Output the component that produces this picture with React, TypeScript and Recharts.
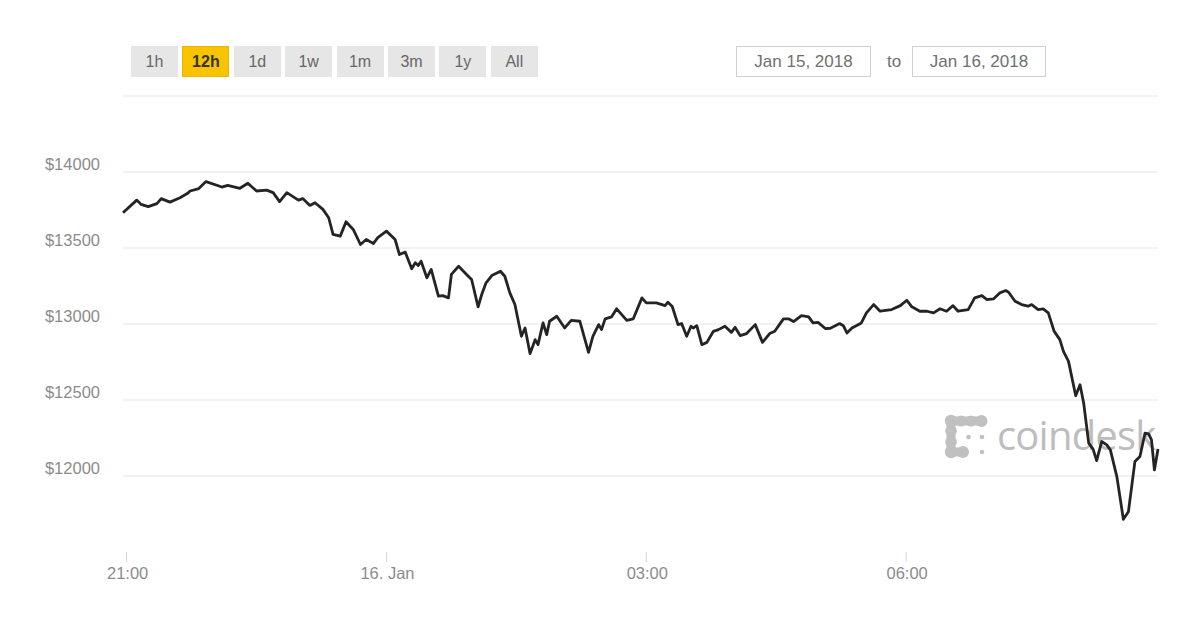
import React from 'react';
import { LineChart, Line, XAxis, YAxis, ReferenceLine } from 'recharts';

// minutes after 21:00 (Jan 15, 2018)
const minutes = [
  -2.5, 7, 10, 15, 21, 24, 30, 37, 42, 44, 50, 55, 66, 70, 78.5, 84, 90, 97, 101.5, 106,
  111, 119, 122, 127, 130.5, 136, 140, 143, 148, 152, 157, 162, 166, 171, 174, 180, 186, 189, 193, 197.5,
  200, 202, 204, 208, 211, 216, 219, 223, 225, 230, 235.5, 239, 243.5, 246, 249, 253, 259, 262, 265.5, 269,
  273.5, 276, 279.5, 283, 285, 288.5, 291, 293, 298, 303.5, 308, 314, 320, 323, 327, 329, 331.5, 336, 339.5, 346.5,
  351, 357, 360, 367, 373, 375, 378, 382, 384.5, 388, 391, 392.5, 395, 398.5, 402, 406.5, 410, 414.5, 419, 421.5,
  425, 429.5, 435.5, 440.5, 445.5, 449, 455, 458.5, 462, 467.5, 472.5, 475.5, 479, 484, 487.5, 494, 496.5, 499, 502.5, 509,
  512.5, 517.5, 522, 530, 536, 540.5, 544, 549.5, 554.5, 559, 563.5, 568, 572.5, 576, 583, 587.5, 592.5, 596, 600.5, 605,
  609, 611, 615.5, 620, 624.5, 627, 631.5, 635, 638.5, 642.5, 646.5, 649, 652.5, 657.5, 660.5, 663, 666.5, 669.5, 672, 675.5,
  679, 681.5, 686, 690.5, 694, 698.5, 702, 705.5, 708, 710, 712, 714.5,
];

// BTC price in USD
const prices = [
  13732, 13815, 13787, 13772, 13792, 13825, 13802, 13831, 13858, 13875, 13891, 13937, 13901, 13912, 13893, 13926, 13875, 13881, 13864, 13805,
  13864, 13815, 13825, 13780, 13798, 13754, 13699, 13589, 13578, 13673, 13622, 13523, 13556, 13530, 13568, 13611, 13556, 13457, 13473, 13363,
  13403, 13385, 13413, 13304, 13359, 13183, 13187, 13172, 13326, 13380, 13326, 13293, 13113, 13194, 13271, 13319, 13347, 13314, 13205, 13128,
  12919, 12974, 12805, 12897, 12864, 13007, 12930, 13018, 13051, 12974, 13024, 13018, 12813, 12919, 12996, 12963, 13034, 13047, 13100, 13024,
  13034, 13172, 13139, 13139, 13121, 13143, 13115, 12996, 13003, 12919, 12985, 12974, 12989, 12864, 12879, 12952, 12963, 12985, 12945, 12978,
  12924, 12937, 12996, 12879, 12937, 12952, 13034, 13034, 13016, 13055, 13047, 13007, 13011, 12970, 12972, 13003, 12989, 12941, 12974, 13007,
  13073, 13128, 13084, 13095, 13121, 13156, 13113, 13084, 13084, 13073, 13100, 13084, 13121, 13084, 13095, 13172, 13187, 13161, 13165, 13205,
  13220, 13209, 13150, 13128, 13117, 13128, 13095, 13100, 13073, 12953, 12897, 12820, 12754, 12528, 12600, 12480, 12216, 12177, 12101, 12227,
  12205, 12172, 11996, 11715, 11765, 12095, 12128, 12282, 12277, 12238, 12040, 12177,
];

const xTicks = [0, 180, 360, 540];
const xTickLabels = ['21:00', '16. Jan', '03:00', '06:00'];
const yTicks = [12000, 12500, 13000, 13500, 14000, 14500];
const yDomain = [11500, 14500];
const rangeButtons = ['1h', '12h', '1d', '1w', '1m', '3m', '1y', 'All'];
const selectedRange = '12h';
const fromDate = 'Jan 15, 2018';
const toDate = 'Jan 16, 2018';

const data = minutes.map((m, i) => ({ m, price: prices[i] }));

const FONT = '"Liberation Sans", Arial, Helvetica, sans-serif';

const YTick = (props: any) => {
  const { y, payload } = props;
  if (payload.value === yTicks[yTicks.length - 1]) return <g />;
  return (
    <text x={100} y={y - 2.5} textAnchor="end" fill="#8c8c8c" fontSize={16.5} fontFamily={FONT}>
      {'$' + payload.value}
    </text>
  );
};

const XTick = (props: any) => {
  const { x, y, payload } = props;
  const idx = xTicks.indexOf(payload.value);
  return (
    <text x={x + 1} y={y + 15} textAnchor="middle" fill="#8c8c8c" fontSize={16.5} fontFamily={FONT}>
      {idx >= 0 ? xTickLabels[idx] : ''}
    </text>
  );
};

const Watermark = () => (
  <svg width={1200} height={630} style={{ position: 'absolute', left: 0, top: 0 }}>
    <g fill="#c0c0c0" stroke="#c0c0c0">
      <path d="M981,421 L951,421 L951,452 L962,452" fill="none" strokeWidth={9} strokeLinecap="round" strokeLinejoin="round" />
      <circle cx={951} cy={421} r={6.2} stroke="none" />
      <circle cx={961} cy={421} r={5.6} stroke="none" />
      <circle cx={971} cy={421} r={5.6} stroke="none" />
      <circle cx={981.5} cy={421} r={6} stroke="none" />
      <circle cx={951} cy={431} r={5.8} stroke="none" />
      <circle cx={951} cy={442} r={5.8} stroke="none" />
      <circle cx={951} cy={452} r={6.2} stroke="none" />
      <circle cx={963} cy={452} r={6} stroke="none" />
      <circle cx={968.5} cy={437} r={2.3} stroke="none" />
      <circle cx={982} cy={437} r={2.3} stroke="none" />
      <circle cx={982} cy={452} r={2.3} stroke="none" />
    </g>
    <text x={997} y={450} fill="#bdbdbd" fontSize={40} fontWeight={400} fontFamily='"Open Sans", sans-serif' letterSpacing={-0.8}>
      coindesk
    </text>
  </svg>
);

export default function App() {
  return (
    <div style={{ position: 'absolute', left: 0, top: 0, width: 1200, height: 630, background: '#fff', overflow: 'hidden', fontFamily: FONT }}>
      <Watermark />
      <div style={{ position: 'absolute', left: 0, top: 0 }}>
        <LineChart width={1200} height={630} data={data} margin={{ top: 96, right: 42, bottom: 38, left: 0 }}>
          {yTicks.map((t) => (
            <ReferenceLine key={t} y={t} stroke="#e6e6e6" strokeWidth={1} ifOverflow="extendDomain" />
          ))}
          <XAxis
            dataKey="m"
            type="number"
            domain={['dataMin', 'dataMax']}
            ticks={xTicks}
            interval={0}
            axisLine={false}
            tickLine={{ stroke: '#ccd6eb' }}
            tickSize={10}
            height={40}
            tick={<XTick />}
          />
          <YAxis
            type="number"
            domain={yDomain}
            ticks={yTicks}
            interval={0}
            axisLine={false}
            tickLine={false}
            width={123}
            tick={<YTick />}
          />
          <Line
            type="linear"
            dataKey="price"
            stroke="#242424"
            strokeWidth={2.8}
            strokeLinejoin="round"
            dot={false}
            activeDot={false}
            isAnimationActive={false}
          />
        </LineChart>
      </div>
      {rangeButtons.map((b, i) => {
        const sel = b === selectedRange;
        return (
          <div
            key={b}
            style={{
              position: 'absolute',
              left: 131 + i * 51.4,
              top: 46,
              width: 47,
              height: 31,
              boxSizing: 'border-box',
              background: sel ? '#f9c300' : '#e6e6e6',
              border: sel ? '1px solid #e9b600' : 'none',
              color: sel ? '#333' : '#666',
              fontWeight: sel ? 'bold' : 'normal',
              fontSize: 16,
              display: 'flex',
              alignItems: 'center',
              justifyContent: 'center',
            }}
          >
            {b}
          </div>
        );
      })}
      <div
        style={{
          position: 'absolute', left: 736, top: 46, width: 135, height: 31, boxSizing: 'border-box',
          border: '1px solid #d0d0d0', color: '#707070', fontSize: 17,
          display: 'flex', alignItems: 'center', justifyContent: 'center',
        }}
      >
        {fromDate}
      </div>
      <div style={{ position: 'absolute', left: 885, top: 46, height: 31, width: 18, color: '#707070', fontSize: 17, display: 'flex', alignItems: 'center', justifyContent: 'center' }}>
        to
      </div>
      <div
        style={{
          position: 'absolute', left: 912, top: 46, width: 134, height: 31, boxSizing: 'border-box',
          border: '1px solid #d0d0d0', color: '#707070', fontSize: 17,
          display: 'flex', alignItems: 'center', justifyContent: 'center',
        }}
      >
        {toDate}
      </div>
    </div>
  );
}
